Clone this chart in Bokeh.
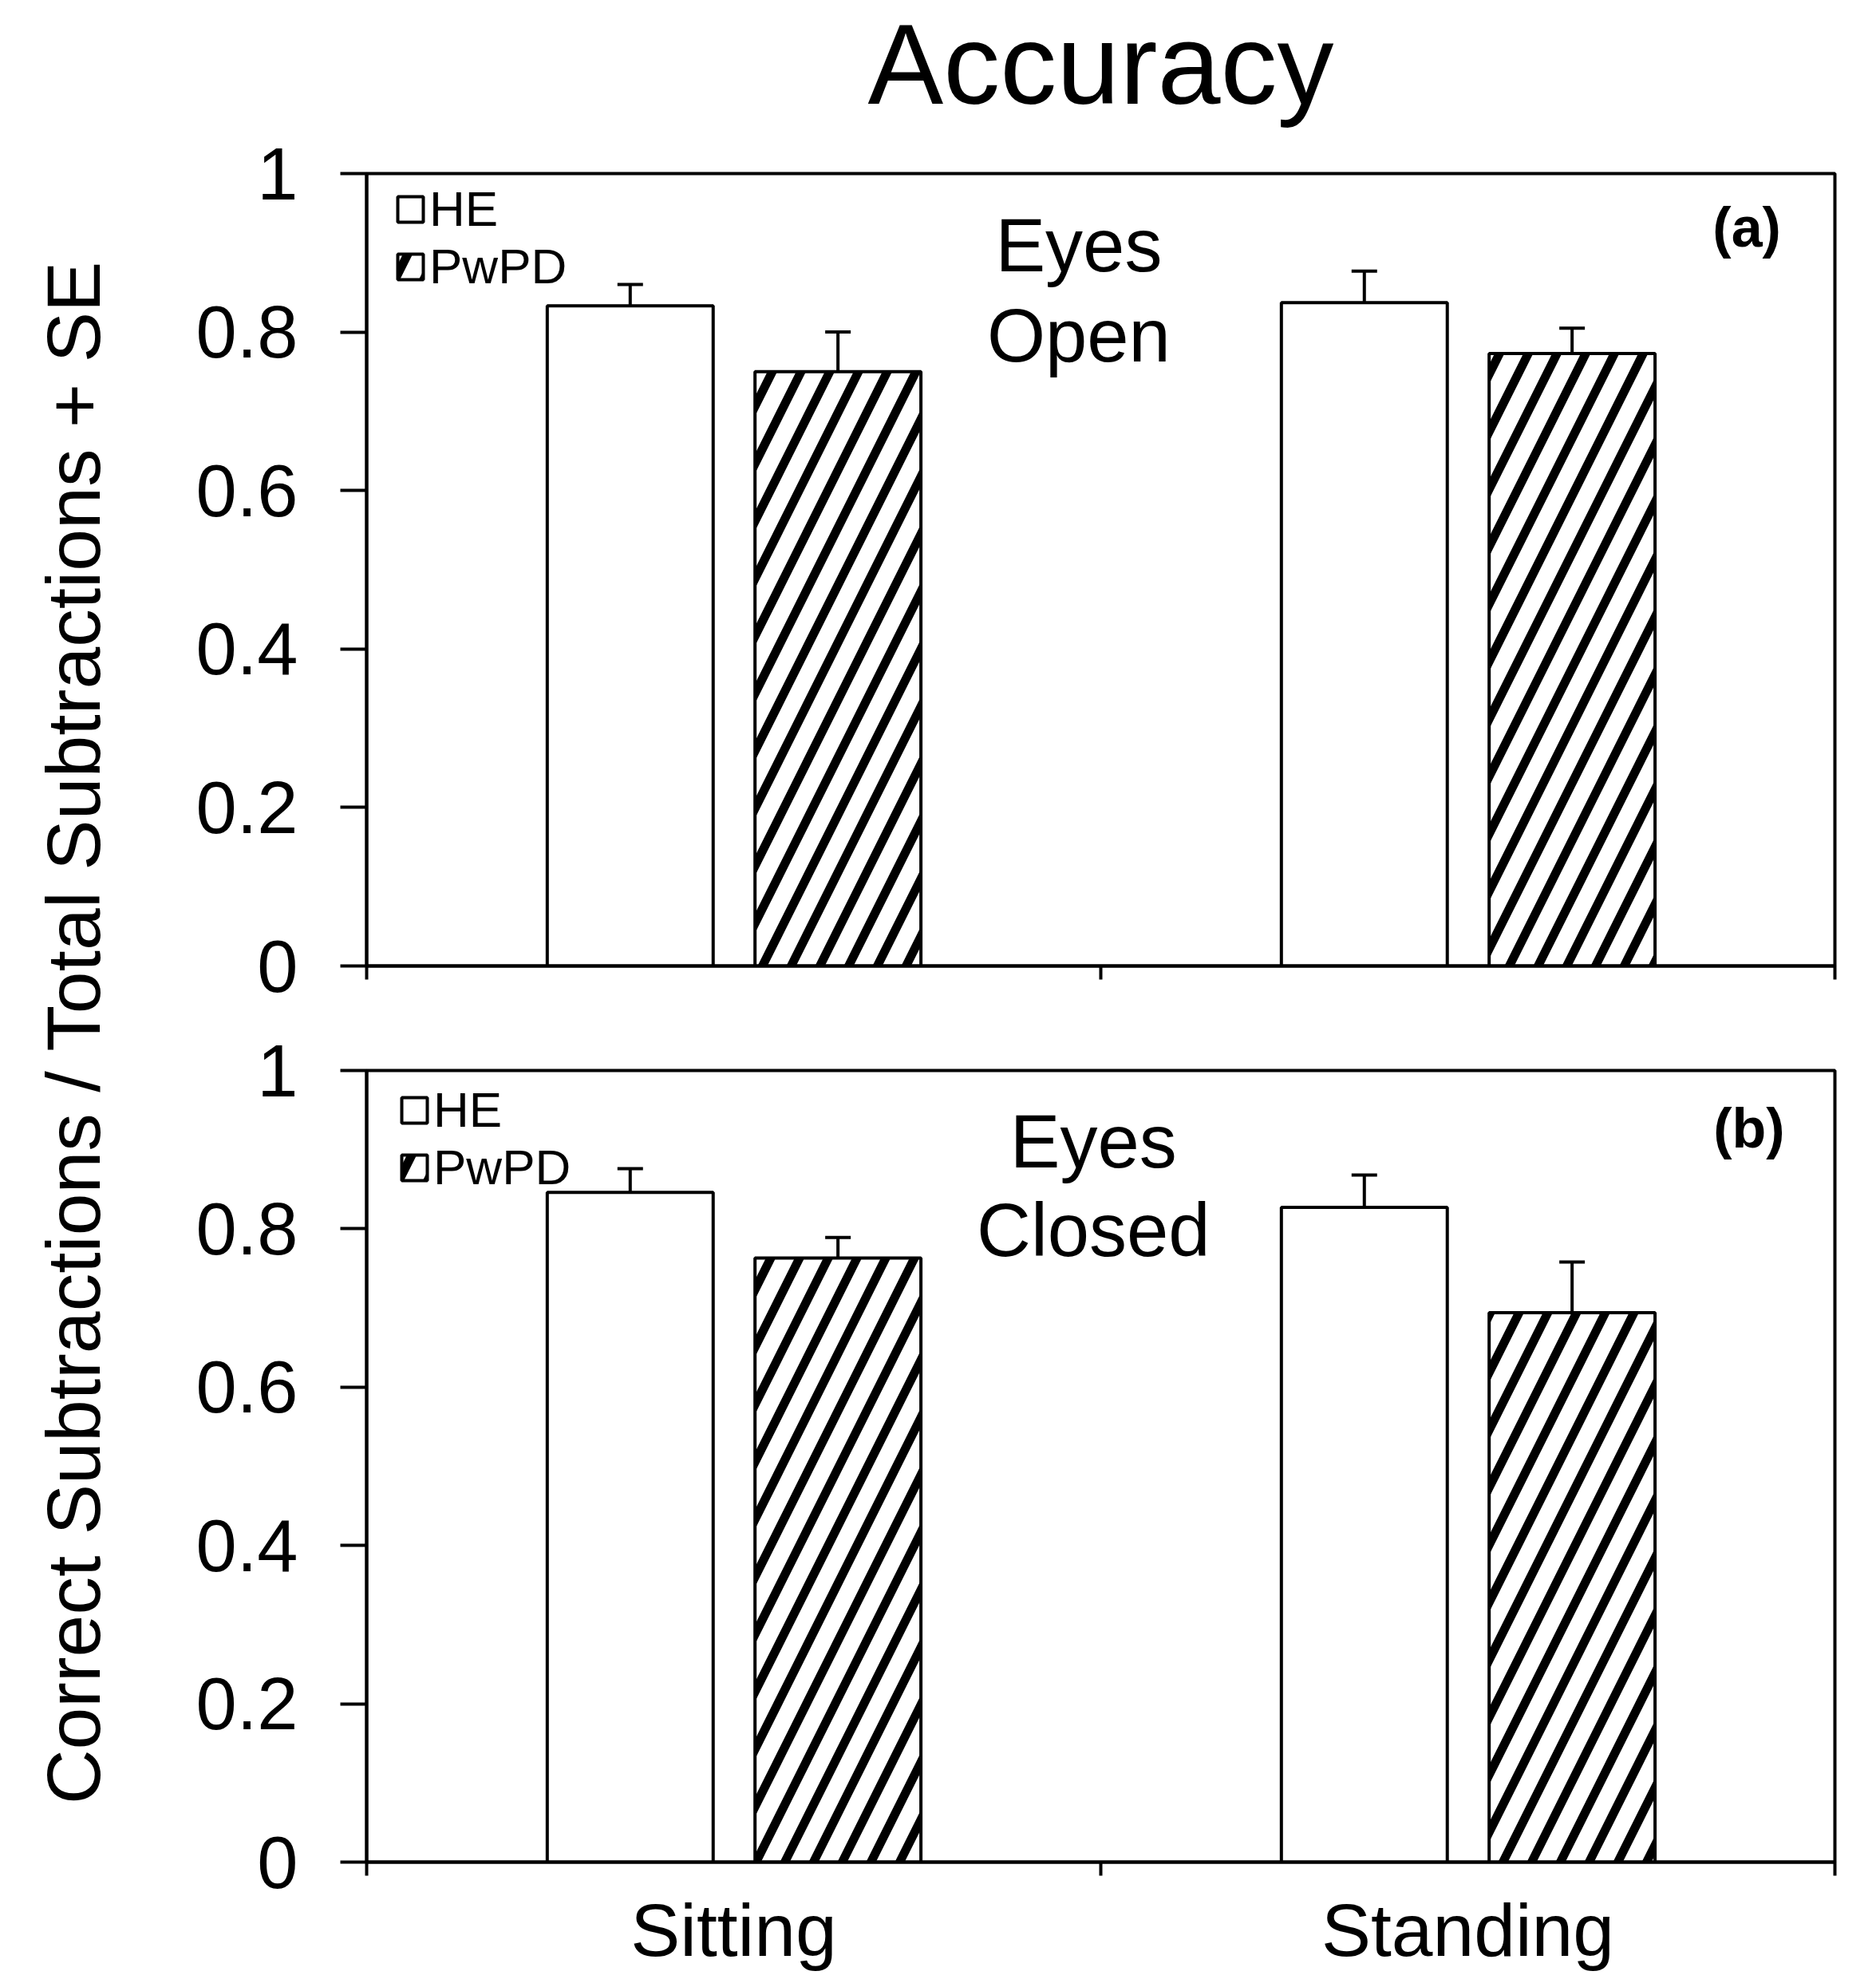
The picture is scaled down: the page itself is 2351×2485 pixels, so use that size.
import numpy as np
from bokeh.plotting import figure
from bokeh.models import (Range1d, FixedTicker, ColumnDataSource, Whisker, TeeHead,
                          Legend, LegendItem)
from bokeh.layouts import row, column
from bokeh.core.properties import value
from bokeh.embed import file_html
from bokeh.resources import INLINE

# ---------------- data ----------------
title_text = "Accuracy"
y_label = "Correct Subtractions / Total Subtractions + SE"
categories = ["Sitting", "Standing"]
groups = ["HE", "PwPD"]
panel_tags = ["(a)", "(b)"]
panel_notes = [["Eyes", "Open"], ["Eyes", "Closed"]]

# panel (a): Eyes Open
a_he_mean = [0.833, 0.837]
a_he_se = [0.027, 0.040]
a_pwpd_mean = [0.750, 0.773]
a_pwpd_se = [0.050, 0.032]

# panel (b): Eyes Closed
b_he_mean = [0.846, 0.827]
b_he_se = [0.030, 0.041]
b_pwpd_mean = [0.763, 0.694]
b_pwpd_se = [0.026, 0.064]

y_ticks = [0, 0.2, 0.4, 0.6, 0.8, 1.0]
y_tick_labels = ["0", "0.2", "0.4", "0.6", "0.8", "1"]

# ---------------- style ----------------
FONT = "Liberation Sans"
LW = 4
FRAME_W = 1840
BORDER_L, BORDER_R = 259, 30
LABEL_W = 200
TITLE_H = 163
TOP_BT, TOP_FH, TOP_BB = 54, 993, 60
BOT_BT, BOT_FH, BOT_BB = 71, 992, 150
TOP_H = TOP_BT + TOP_FH + TOP_BB
BOT_H = BOT_BT + BOT_FH + BOT_BB


def make_panel(he_m, he_s, pw_m, pw_s, tag, notes, top):
    fh = TOP_FH if top else BOT_FH
    p = figure(frame_width=FRAME_W, frame_height=fh,
               x_range=Range1d(0, 2), y_range=Range1d(0, 1),
               output_backend="svg", toolbar_location=None,
               min_border_left=BORDER_L, min_border_right=BORDER_R,
               min_border_top=TOP_BT if top else BOT_BT,
               min_border_bottom=TOP_BB if top else BOT_BB,
               background_fill_color="white", border_fill_color="white")
    p.grid.visible = False
    p.outline_line_color = "black"
    p.outline_line_width = LW
    p.outline_line_alpha = 1.0

    idx = np.arange(len(categories))
    he_m = np.array(he_m); he_s = np.array(he_s)
    pw_m = np.array(pw_m); pw_s = np.array(pw_s)
    src_he = ColumnDataSource(dict(x=idx + 0.5 - 0.141, top=he_m, upper=he_m + he_s))
    src_pw = ColumnDataSource(dict(x=idx + 0.5 + 0.142, top=pw_m, upper=pw_m + pw_s))

    r_he = p.vbar(x="x", top="top", bottom=0, width=0.226, source=src_he,
                  fill_color="white", line_color="black", line_width=LW)
    r_pw = p.vbar(x="x", top="top", bottom=0, width=0.226, source=src_pw,
                  fill_color="white", line_color="black", line_width=LW,
                  hatch_pattern="/", hatch_color="black", hatch_scale=72, hatch_weight=11)

    for src in (src_he, src_pw):
        w = Whisker(source=src, base="x", upper="upper", lower="top", dimension="height",
                    line_color="black", line_width=LW,
                    upper_head=TeeHead(size=32, line_width=LW, line_color="black"),
                    lower_head=None)
        p.add_layout(w)

    leg_top = 11 if top else 16
    leg_left = 35 if top else 40
    legend = Legend(items=[LegendItem(label=groups[0], renderers=[r_he]),
                           LegendItem(label=groups[1], renderers=[r_pw])],
                    location=(leg_left, fh - leg_top - 141), margin=0, padding=0, spacing=1,
                    glyph_width=40, glyph_height=40, label_height=40, label_standoff=4,
                    label_text_font=FONT, label_text_font_size="62px",
                    label_text_color="black",
                    background_fill_alpha=0, border_line_color=None)
    p.add_layout(legend)

    if top:
        p.text(x=[0.97, 0.97], y=[0.909, 0.796], text=notes,
               text_font=value(FONT), text_font_size="94px",
               text_align="center", text_baseline="alphabetic", text_color="black")
        p.text(x=[1.880], y=[0.932], text=[tag], text_font=value(FONT),
               text_font_size="70px", text_font_style="bold",
               text_align="center", text_baseline="alphabetic", text_color="black")
    else:
        p.text(x=[0.99, 0.99], y=[0.910, 0.798], text=notes,
               text_font=value(FONT), text_font_size="94px",
               text_align="center", text_baseline="alphabetic", text_color="black")
        p.text(x=[1.883], y=[0.927], text=[tag], text_font=value(FONT),
               text_font_size="70px", text_font_style="bold",
               text_align="center", text_baseline="alphabetic", text_color="black")

    ya = p.yaxis[0]
    ya.ticker = FixedTicker(ticks=y_ticks, minor_ticks=[])
    ya.major_label_overrides = dict(zip(y_ticks, y_tick_labels))
    ya.major_label_text_font = FONT
    ya.major_label_text_font_size = "92px"
    ya.major_label_text_color = "black"
    ya.major_tick_out = 33
    ya.major_tick_in = 0
    ya.minor_tick_out = 0
    ya.minor_tick_in = 0
    ya.major_tick_line_width = LW
    ya.major_tick_line_color = "black"
    ya.axis_line_width = LW
    ya.axis_line_color = "black"
    ya.major_label_standoff = 53

    xa = p.xaxis[0]
    xa.axis_line_width = LW
    xa.axis_line_color = "black"
    if top:
        xa.ticker = FixedTicker(ticks=[0, 1, 2], minor_ticks=[])
        xa.major_label_overrides = {0: "", 1: "", 2: ""}
        xa.major_label_text_font_size = "1px"
        xa.major_label_standoff = 0
        xa.major_tick_out = 17
        xa.major_tick_in = 0
        xa.major_tick_line_width = LW
        xa.major_tick_line_color = "black"
    else:
        xa.ticker = FixedTicker(ticks=[0.5, 1.5], minor_ticks=[0, 1, 2])
        xa.major_label_overrides = {0.5: categories[0], 1.5: categories[1]}
        xa.major_label_text_font = FONT
        xa.major_label_text_font_size = "93px"
        xa.major_label_text_color = "black"
        xa.major_label_standoff = 16
        xa.major_tick_out = 0
        xa.major_tick_in = 0
        xa.minor_tick_out = 17
        xa.minor_tick_in = 0
        xa.minor_tick_line_width = LW
        xa.minor_tick_line_color = "black"
    return p


# title strip sharing the panels' horizontal layout
p_title = figure(frame_width=FRAME_W, frame_height=TITLE_H,
                 x_range=Range1d(0, 2), y_range=Range1d(0, TITLE_H),
                 x_axis_type=None, y_axis_type=None,
                 min_border_left=BORDER_L, min_border_right=BORDER_R,
                 min_border_top=0, min_border_bottom=0,
                 outline_line_color=None, toolbar_location=None, output_backend="svg")
p_title.grid.visible = False
p_title.text(x=[1.0], y=[TITLE_H - 80], text=[title_text], text_font=value(FONT),
             text_font_size="142px", text_color="black",
             text_align="center", text_baseline="middle")

p_top = make_panel(a_he_mean, a_he_se, a_pwpd_mean, a_pwpd_se, panel_tags[0], panel_notes[0], True)
p_bot = make_panel(b_he_mean, b_he_se, b_pwpd_mean, b_pwpd_se, panel_tags[1], panel_notes[1], False)

H_TOTAL = TITLE_H + TOP_H + BOT_H
lab = figure(width=LABEL_W, height=H_TOTAL, x_range=Range1d(0, LABEL_W), y_range=Range1d(0, H_TOTAL),
             x_axis_type=None, y_axis_type=None, min_border=0, outline_line_color=None,
             toolbar_location=None, output_backend="svg")
lab.grid.visible = False
lab.text(x=[91], y=[H_TOTAL - 1293], text=[y_label], angle=np.pi / 2,
         text_font=value(FONT), text_font_size="95px", text_color="black",
         text_align="center", text_baseline="middle")

layout = row(lab, column(p_title, p_top, p_bot, spacing=0), spacing=0)

open("out.html", "w").write(file_html(layout, INLINE))
